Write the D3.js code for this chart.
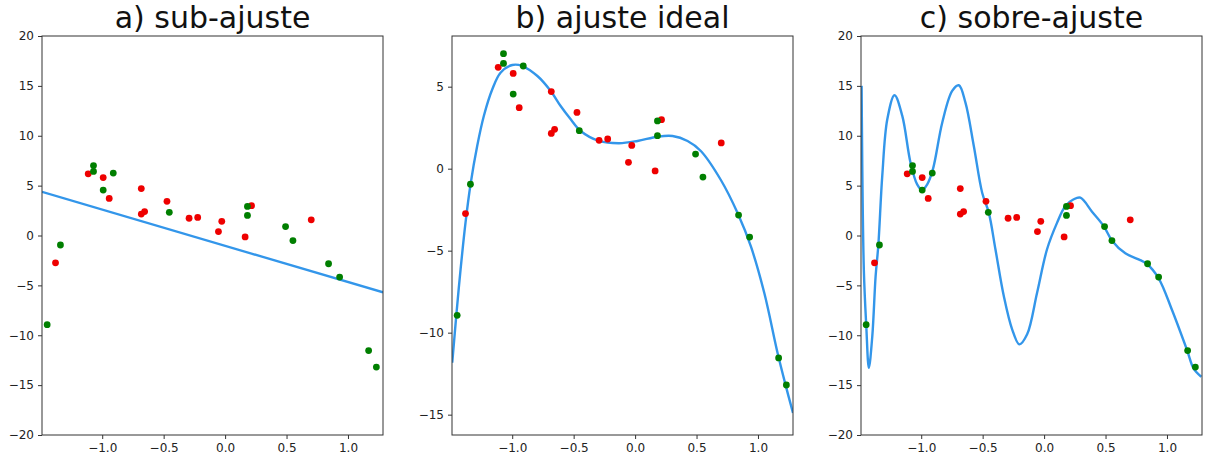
<!DOCTYPE html>
<html>
<head>
<meta charset="utf-8">
<script src="https://cdnjs.cloudflare.com/ajax/libs/d3/7.8.5/d3.min.js"></script>
<style>
  body { margin: 0; background: #fff; }
  svg { display: block; }
  .tick text { font-family: "DejaVu Sans", sans-serif; font-size: 12px; fill: #222; }
  .tick line { stroke: #333; }
  .title { font-family: "DejaVu Sans", sans-serif; font-size: 30px; fill: #111; }
</style>
</head>
<body>
<svg id="svg1" width="1205" height="460"></svg>
<script>
// training points (red) and validation points (green)
var redX = [-1.380, -1.114, -0.992, -0.943, -0.682, -0.682, -0.655, -0.473, -0.293, -0.223, -0.054, -0.027, 0.163, 0.215, 0.701];
var redY = [-2.74, 6.18, 5.81, 3.72, 4.70, 2.15, 2.40, 3.43, 1.73, 1.81, 0.39, 1.42, -0.14, 2.99, 1.57];
var greenX = [-1.448, -1.340, -1.071, -1.071, -0.992, -0.910, -0.454, 0.182, 0.182, 0.492, 0.552, 0.842, 0.932, 1.168, 1.231];
var greenY = [-8.94, -0.95, 7.01, 6.42, 4.55, 6.26, 2.32, 2.91, 2.01, 0.89, -0.51, -2.83, -4.17, -11.54, -13.19];

// fitted curves
var fitAX = [-1.49, 1.285];
var fitAY = [4.38, -5.70];

var fitBX = [-1.488, -1.453, -1.42, -1.380, -1.339, -1.285, -1.231, -1.162, -1.095, -0.999, -0.918, -0.795, -0.687, -0.606, -0.524, -0.443, -0.293, -0.130, 0.020, 0.183, 0.305, 0.427, 0.535, 0.698, 0.835, 0.943, 1.052, 1.160, 1.228, 1.285];
var fitBY = [-11.83, -8.78, -6.13, -3.29, -0.95, 1.38, 3.21, 4.84, 5.85, 6.32, 6.26, 5.65, 4.74, 3.82, 3.01, 2.30, 1.69, 1.55, 1.69, 1.95, 1.99, 1.69, 1.08, -0.69, -2.72, -4.76, -7.60, -11.26, -13.29, -14.90];

var fitCX = [-1.485, -1.467, -1.447, -1.426, -1.398, -1.371, -1.349, -1.317, -1.276, -1.217, -1.154, -1.087, -1.033, -0.992, -0.951, -0.905, -0.829, -0.748, -0.694, -0.640, -0.572, -0.504, -0.450, -0.396, -0.328, -0.260, -0.201, -0.138, -0.057, 0.024, 0.106, 0.173, 0.241, 0.295, 0.390, 0.485, 0.553, 0.661, 0.769, 0.837, 0.932, 1.041, 1.163, 1.216, 1.279];
var fitCY = [15.0, -3.39, -9.08, -13.26, -10.08, -4.06, -0.98, 5.97, 11.65, 14.06, 11.99, 7.30, 5.13, 4.56, 5.13, 6.63, 11.31, 14.49, 15.06, 13.32, 8.98, 4.29, 2.29, -1.38, -6.07, -9.41, -10.91, -9.91, -5.74, -1.38, 1.29, 2.96, 3.63, 3.79, 2.39, 0.95, -0.52, -1.79, -2.39, -2.86, -4.29, -7.47, -11.48, -13.32, -14.16];

var titles = ["a) sub-ajuste", "b) ajuste ideal", "c) sobre-ajuste"];
var xTicks = [-1.0, -0.5, 0.0, 0.5, 1.0];
var yTicksWide = [-20, -15, -10, -5, 0, 5, 10, 15, 20];
var yTicksB = [-15, -10, -5, 0, 5];

var xDomain = [-1.49, 1.285];

var panels = [
  { left: 42, title: titles[0], fx: fitAX, fy: fitAY, yDom: [-20, 20], yTicks: yTicksWide },
  { left: 452, title: titles[1], fx: fitBX, fy: fitBY, yDom: [-16.24, 8.09], yTicks: yTicksB },
  { left: 861, title: titles[2], fx: fitCX, fy: fitCY, yDom: [-20, 20], yTicks: yTicksWide }
];

var plotW = 341;
var plotTop = 36;
var plotH = 399;

var svg = d3.select("#svg1");

panels.forEach(function(p, i) {
  var g = svg.append("g")
    .attr("transform", "translate(" + p.left + "," + plotTop + ")");

  var scaleX = d3.scaleLinear().domain(xDomain).range([0, plotW]);
  var scaleY = d3.scaleLinear().domain(p.yDom).range([plotH, 0]);

  g.append("clipPath").attr("id", "clip" + i)
    .append("rect").attr("width", plotW).attr("height", plotH);

  g.append("g")
    .attr("transform", "translate(0," + plotH + ")")
    .call(d3.axisBottom(scaleX).tickValues(xTicks).tickSize(4).tickPadding(4)
      .tickFormat(function(d) { return d3.format(".1f")(d).replace("-", "\u2212"); }))
    .call(function(a) { a.select(".domain").remove(); });

  g.append("g")
    .call(d3.axisLeft(scaleY).tickValues(p.yTicks).tickSize(4).tickPadding(4)
      .tickFormat(function(d) { return String(d).replace("-", "\u2212"); }))
    .call(function(a) { a.select(".domain").remove(); });

  var fit = p.fx.map(function(x, k) { return [x, p.fy[k]]; });

  var line = d3.line()
    .x(function(d) { return scaleX(d[0]); })
    .y(function(d) { return scaleY(d[1]); })
    .curve(d3.curveCatmullRom.alpha(0.5));

  g.append("path")
    .datum(fit)
    .attr("clip-path", "url(#clip" + i + ")")
    .attr("d", line)
    .attr("fill", "none")
    .attr("stroke", "#3396ea")
    .attr("stroke-width", 2.4);

  g.selectAll(".red")
    .data(redX)
    .enter()
    .append("circle")
    .attr("class", "red")
    .attr("cx", function(d) { return scaleX(d); })
    .attr("cy", function(d, k) { return scaleY(redY[k]); })
    .attr("r", 3.4)
    .attr("fill", "#ee0000");

  g.selectAll(".green")
    .data(greenX)
    .enter()
    .append("circle")
    .attr("class", "green")
    .attr("cx", function(d) { return scaleX(d); })
    .attr("cy", function(d, k) { return scaleY(greenY[k]); })
    .attr("r", 3.4)
    .attr("fill", "#007f00");

  g.append("rect")
    .attr("width", plotW)
    .attr("height", plotH)
    .attr("fill", "none")
    .attr("stroke", "#333")
    .attr("stroke-width", 1);

  svg.append("text")
    .attr("class", "title")
    .attr("x", p.left + plotW / 2)
    .attr("y", 28)
    .attr("text-anchor", "middle")
    .text(p.title);
});
</script>
</body>
</html>
